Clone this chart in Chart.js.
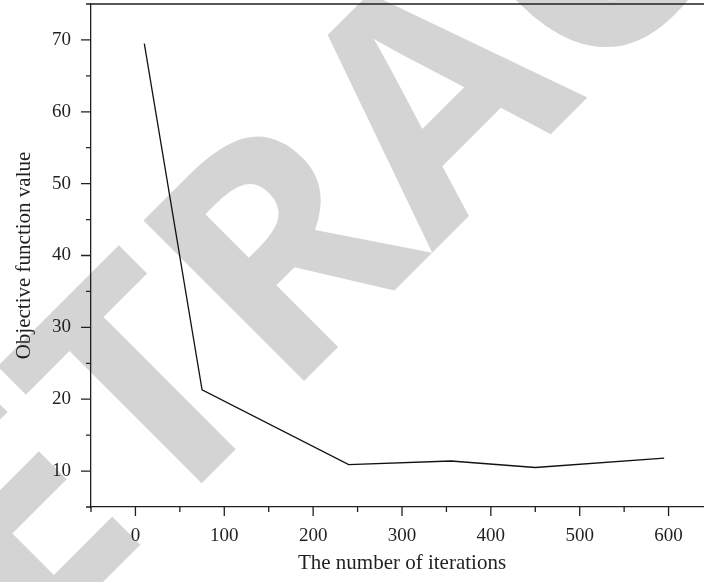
<!DOCTYPE html>
<html>
<head>
<meta charset="utf-8">
<script src="https://cdn.jsdelivr.net/npm/chart.js@4.4.1/dist/chart.umd.min.js"></script>
<style>
  html, body { margin: 0; padding: 0; background: #fff; overflow: hidden; }
  #wrap { width: 713px; height: 582px; }
</style>
</head>
<body>
<div id="wrap"><canvas id="myChart" width="713" height="582"></canvas></div>
<script>
// data
const iterations = [10, 75, 240, 355, 450, 595];
const objectiveValues = [69.5, 21.3, 10.9, 11.4, 10.5, 11.8];
const xTickValues = [0, 100, 200, 300, 400, 500, 600];
const yTickValues = [10, 20, 30, 40, 50, 60, 70];
const xTitle = 'The number of iterations';
const yTitle = 'Objective function value';
const watermarkText = 'RETRACTED';

const ink = '#231f20';
const serif = '"Liberation Serif", "Times New Roman", serif';

// big grey diagonal stamp, under everything else
const watermark = {
    id: 'watermark',
    beforeDraw(chart) {
        const { ctx } = chart;
        ctx.save();
        ctx.translate(342.5, 342.5);
        ctx.rotate(-Math.PI / 4);
        ctx.font = 'bold 318px "Open Sans", sans-serif';
        ctx.fillStyle = '#d4d4d4';
        ctx.textBaseline = 'alphabetic';
        ctx.textAlign = 'left';
        const start = -83 - ctx.measureText('RET').width;
        ctx.fillText(watermarkText, start, 0);
        ctx.restore();
    }
};

// top frame line + major/minor tick marks pointing outwards
const frameTicks = {
    id: 'frameTicks',
    afterDraw(chart) {
        const { ctx, chartArea: { left, top, right, bottom }, scales: { x, y } } = chart;
        ctx.save();
        ctx.strokeStyle = ink;
        ctx.lineWidth = 1.3;
        ctx.beginPath();
        ctx.moveTo(left, top);
        ctx.lineTo(right, top);
        for (let v = x.min; v <= x.max; v += 50) {
            const px = x.getPixelForValue(v);
            const len = v % 100 === 0 ? 9 : 5;
            ctx.moveTo(px, bottom);
            ctx.lineTo(px, bottom + len);
        }
        for (let v = y.min; v <= y.max; v += 5) {
            const py = y.getPixelForValue(v);
            const len = v % 10 === 0 ? 10 : 5;
            ctx.moveTo(left, py);
            ctx.lineTo(left - len, py);
        }
        ctx.stroke();
        ctx.restore();
    }
};

const data = {
    datasets: [{
        label: yTitle,
        data: iterations.map((it, i) => ({ x: it, y: objectiveValues[i] })),
        borderColor: '#111',
        borderWidth: 1.3,
        pointRadius: 0,
        tension: 0,
        fill: false
    }]
};

const config = {
    type: 'line',
    data,
    options: {
        responsive: false,
        animation: false,
        layout: { padding: { top: 4, left: 0, right: 0, bottom: 0 } },
        plugins: { legend: { display: false }, tooltip: { enabled: false } },
        scales: {
            x: {
                type: 'linear',
                min: -50,
                max: 650,
                grid: { display: false, drawTicks: false },
                border: { display: true, color: ink, width: 1.3 },
                ticks: { font: { family: serif, size: 19 }, color: ink, padding: 18 },
                afterBuildTicks: scale => { scale.ticks = xTickValues.map(v => ({ value: v })); },
                afterFit: scale => { scale.height = 75; scale.paddingLeft = 0; scale.paddingRight = 0; },
                title: {
                    display: true,
                    text: xTitle,
                    font: { family: serif, size: 21 },
                    color: ink,
                    padding: { top: 0, bottom: 6 }
                }
            },
            y: {
                min: 5,
                max: 75,
                grid: { display: false, drawTicks: false },
                border: { display: true, color: ink, width: 1.3 },
                ticks: { font: { family: serif, size: 19 }, color: ink, padding: 20 },
                afterBuildTicks: scale => { scale.ticks = yTickValues.map(v => ({ value: v })); },
                afterFit: scale => { scale.width = 91; scale.paddingTop = 0; scale.paddingBottom = 0; },
                title: {
                    display: true,
                    text: yTitle,
                    font: { family: serif, size: 21 },
                    color: ink,
                    padding: { top: 12, bottom: 0 }
                }
            }
        }
    },
    plugins: [watermark, frameTicks]
};

const myChart = new Chart(document.getElementById('myChart'), config);
</script>
</body>
</html>
